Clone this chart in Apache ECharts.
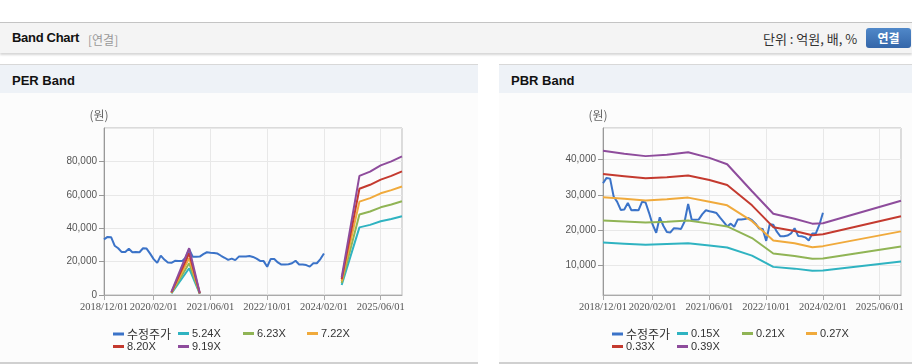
<!DOCTYPE html>
<html>
<head>
<meta charset="utf-8">
<script src="https://cdn.jsdelivr.net/npm/echarts@6/dist/echarts.min.js"></script>
<style>
body{margin:0;width:912px;height:364px;overflow:hidden;background:#fff;position:relative;font-family:"Liberation Sans",Arial,"Noto Sans CJK KR",sans-serif}
.topbar{position:absolute;left:0;top:22px;width:912px;height:30px;border-top:1px solid #c4c4c4;background:#f4f4f4;box-shadow:0 2px 2px rgba(0,0,0,.16)}
.topbar .ttl{position:absolute;left:12px;top:7px;font-size:13px;font-weight:bold;color:#111;letter-spacing:-0.3px}
.topbar .sub{position:absolute;left:88px;top:8px;font-size:12px;color:#999;font-family:"Noto Sans CJK KR",sans-serif}
.topbar .unit{position:absolute;left:763px;top:6px;font-size:13px;color:#333;font-family:"Noto Sans CJK KR",sans-serif}
.topbar .btn{position:absolute;left:866px;top:5px;width:45px;height:20px;border-radius:3px;background:linear-gradient(#5088c9,#3466a9);color:#fff;font-weight:bold;font-size:12px;text-align:center;line-height:20px;font-family:"Noto Sans CJK KR",sans-serif}
.panel{position:absolute;top:64px;height:297px;background:#fcfcfc;border-top:1px solid #d8d8d8;border-bottom:2px solid #d0d0d0}
.phead{height:28px;background:#eef2f7;font-size:13px;font-weight:bold;color:#111;padding-left:12px;line-height:31px}
.chart{position:absolute;left:0;top:28px;right:0;height:269px}
</style>
</head>
<body>
<div class="topbar">
  <span class="ttl">Band Chart</span><span class="sub">[연결]</span>
  <span class="unit">단위 : 억원, 배, %</span>
  <span class="btn">연결</span>
</div>
<div class="panel" style="left:0;width:478px"><div class="phead">PER Band</div><div class="chart" id="per"></div></div>
<div class="panel" style="left:499px;width:413px"><div class="phead">PBR Band</div><div class="chart" id="pbr"></div></div>
<script>
// 월별 카테고리 2018/12 ~ 2025/12
var months = [];
for (var k = 0; k < 85; k++) {
    var yy = 2018 + Math.floor((11 + k) / 12), mm = (11 + k) % 12 + 1;
    months.push(yy + '/' + (mm < 10 ? '0' + mm : mm) + '/01');
}
var labelIdx = [0, 14, 30, 46, 62, 78];

// 수정주가 (2018/12 ~ 2024/02, 월별)
var price = [33300, 34800, 34600, 29500, 28000, 25700, 25800, 27700, 25600, 25700,
    25600, 28000, 27800, 24800, 21500, 19200, 23600, 21200, 19400, 19300,
    20500, 20400, 20300, 22400, 27400, 22900, 22900, 23000, 24500, 25600,
    25300, 25100, 24800, 23500, 22300, 21000, 21800, 20900, 23000, 23000,
    23100, 23400, 22800, 21800, 20400, 20300, 16900, 21600, 21500, 19500,
    18200, 18200, 18400, 19000, 20500, 18300, 18200, 17900, 17000, 19000,
    19000, 21500, 24900];

var perNames = ['5.24X', '6.23X', '7.22X', '8.20X', '9.19X'];
var per524 = [['2020/07/01', 1000], ['2020/12/01', 16000], ['2021/03/01', 700], ['2022/06/01', null],
    ['2024/07/01', 6000], ['2024/12/01', 40500], ['2025/03/01', 42000], ['2025/06/01', 44200], ['2025/09/01', 45500], ['2025/12/01', 47200]];
var per623 = [['2020/07/01', 1200], ['2020/12/01', 19000], ['2021/03/01', 850], ['2022/06/01', null],
    ['2024/07/01', 7200], ['2024/12/01', 48200], ['2025/03/01', 50000], ['2025/06/01', 52500], ['2025/09/01', 54200], ['2025/12/01', 56100]];
var per722 = [['2020/07/01', 1400], ['2020/12/01', 22000], ['2021/03/01', 1000], ['2022/06/01', null],
    ['2024/07/01', 8300], ['2024/12/01', 55900], ['2025/03/01', 58000], ['2025/06/01', 60900], ['2025/09/01', 62800], ['2025/12/01', 65000]];
var per820 = [['2020/07/01', 1600], ['2020/12/01', 25000], ['2021/03/01', 1100], ['2022/06/01', null],
    ['2024/07/01', 9400], ['2024/12/01', 63600], ['2025/03/01', 66000], ['2025/06/01', 69100], ['2025/09/01', 71300], ['2025/12/01', 74000]];
var per919 = [['2020/07/01', 1800], ['2020/12/01', 28000], ['2021/03/01', 1250], ['2022/06/01', null],
    ['2024/07/01', 10600], ['2024/12/01', 71300], ['2025/03/01', 73900], ['2025/06/01', 77600], ['2025/09/01', 80000], ['2025/12/01', 83000]];

var pbrNames = ['0.15X', '0.21X', '0.27X', '0.33X', '0.39X'];
var pbrDates = ['2018/12/01', '2019/06/01', '2019/12/01', '2020/06/01', '2020/12/01', '2021/06/01', '2021/11/01',
    '2022/06/01', '2022/12/01', '2023/06/01', '2023/11/01', '2024/02/01', '2025/12/01'];
var pbr015 = [16400, 16100, 15800, 16000, 16200, 15600, 15000, 12700, 9500, 9000, 8400, 8500, 11000];
var pbr021 = [22700, 22400, 22100, 22300, 22700, 21800, 21000, 17700, 13300, 12600, 11800, 11900, 15300];
var pbr027 = [29300, 28900, 28400, 28700, 29200, 28000, 27000, 22500, 17000, 16200, 15100, 15400, 19600];
var pbr033 = [35900, 35300, 34700, 35000, 35500, 34200, 32800, 27000, 20800, 19700, 18500, 18800, 23900];
var pbr039 = [42500, 41700, 41000, 41400, 42100, 40500, 38700, 31000, 24600, 23200, 21800, 21900, 28300];

var colors = ['#3b73c8', '#2fb3c1', '#90b455', '#f0aa3c', '#c43a2f', '#8e4c9c'];

function showIdx(i) { return labelIdx.indexOf(i) >= 0; }

function pairs(dates, vals) {
    return dates.map(function (d, i) { return [d, vals[i]]; });
}

function buildOption(names, bands, yMin, yMax, yInterval) {
    var allNames = ['수정주가'].concat(names);
    var legendPos = [[108, 230], [173, 230], [238, 230], [302, 230], [108, 243], [173, 243]];
    var legends = allNames.map(function (n, i) {
        return {
            data: [n], left: legendPos[i][0], top: legendPos[i][1],
            icon: 'rect', itemWidth: 11, itemHeight: 3, itemGap: 0,
            textStyle: {
                color: '#333', fontSize: i === 0 ? 12 : 11,
                fontFamily: i === 0 ? 'Noto Sans CJK KR' : 'Liberation Sans',
                padding: [0, 0, 0, -2]
            }
        };
    });
    var series = [{
        name: '수정주가', type: 'line', data: price, symbol: 'none',
        lineStyle: {width: 2, color: colors[0]}, itemStyle: {color: colors[0]}
    }];
    bands.forEach(function (b, i) {
        series.push({
            name: names[i], type: 'line', data: b, symbol: 'none',
            lineStyle: {width: 2, color: colors[i + 1]}, itemStyle: {color: colors[i + 1]}
        });
    });
    var yAxis = {
        type: 'value', min: yMin, max: yMax,
        name: '(원)', nameLocation: 'end', nameGap: 7,
        nameTextStyle: {color: '#666', fontSize: 12, fontFamily: 'Noto Sans CJK KR', align: 'center', padding: [0, 10, 0, 0]},
        axisLine: {show: true, lineStyle: {color: '#999'}},
        axisTick: {show: true, length: 5, lineStyle: {color: '#999'}},
        axisLabel: {color: '#555', fontSize: 10, fontFamily: 'Liberation Sans', margin: 7, showMaxLabel: false, showMinLabel: yMin === 0,
            formatter: function (v) { return v.toLocaleString('en-US'); }},
        splitLine: {lineStyle: {color: '#e8e8e8'}}
    };
    if (yInterval) yAxis.interval = yInterval; else yAxis.splitNumber = 5;
    return {
        animation: false,
        color: colors,
        grid: {left: 104, top: 35, width: 298, height: 167, show: true, borderColor: '#bbb', borderWidth: 1},
        legend: legends,
        xAxis: {
            type: 'category', data: months, boundaryGap: false,
            axisLine: {lineStyle: {color: '#aaa'}},
            axisTick: {show: true, length: 5, interval: showIdx, lineStyle: {color: '#aaa'}},
            axisLabel: {interval: 0, color: '#555', fontSize: 10.5, fontFamily: 'Liberation Sans Narrow', margin: 7,
                hideOverlap: false, showMinLabel: true, showMaxLabel: true,
                formatter: function (v, i) { return showIdx(i) ? v : ''; }},
            splitLine: {show: true, interval: showIdx, lineStyle: {color: '#e8e8e8'}}
        },
        yAxis: yAxis,
        series: series
    };
}

var perChart = echarts.init(document.getElementById('per'));
perChart.setOption(buildOption(perNames, [per524, per623, per722, per820, per919], 0, 100000, 20000));

var pbrChart = echarts.init(document.getElementById('pbr'));
pbrChart.setOption(buildOption(pbrNames, [
    pairs(pbrDates, pbr015), pairs(pbrDates, pbr021), pairs(pbrDates, pbr027),
    pairs(pbrDates, pbr033), pairs(pbrDates, pbr039)], 1500, 49000, null));
</script>
</body>
</html>
